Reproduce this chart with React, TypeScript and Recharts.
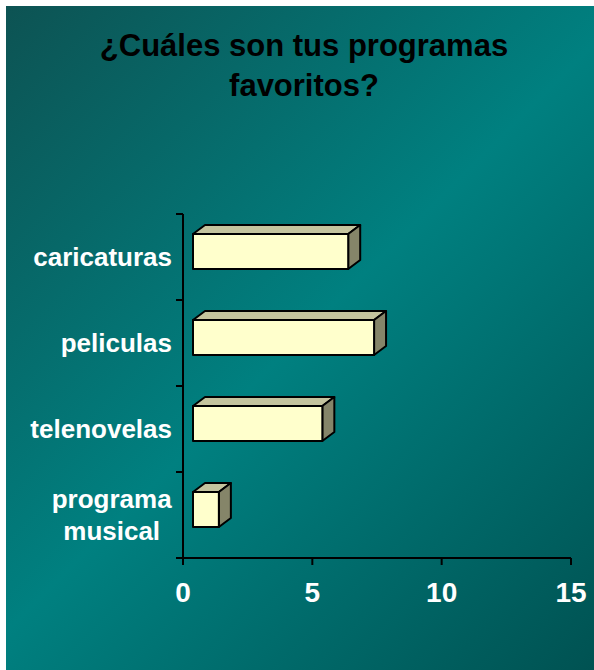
import { BarChart, Bar, XAxis, YAxis } from "recharts";

const categories = ["caricaturas", "peliculas", "telenovelas", "programa musical"];
const votes = [6, 7, 5, 1];
const xTicks = [0, 5, 10, 15];

const data = categories.map((name, i) => ({ name, value: votes[i] }));

const WIDTH = 594;
const HEIGHT = 670;
const PLOT_TOP = 214;
const PLOT_BOTTOM = 558;
const X_AXIS_H = 30;
const BAND = (PLOT_BOTTOM - PLOT_TOP) / categories.length;

const FONT = '"Liberation Sans", Arial, Helvetica, sans-serif';
const LABEL_SIZE = 26;

// 3D-ish box like the old Excel charts: front face shifted right/up, top + side faces behind
function Box3D(props: any) {
  const { x, y, width, height } = props;
  if (width == null || width <= 0) return null;
  const dx = 12;
  const dy = 9;
  const fx = x + 10;
  const fy = y - 6;
  const top = `${fx},${fy} ${fx + dx},${fy - dy} ${fx + width + dx},${fy - dy} ${fx + width},${fy}`;
  const side = `${fx + width},${fy} ${fx + width + dx},${fy - dy} ${fx + width + dx},${fy + height - dy} ${fx + width},${fy + height}`;
  return (
    <g stroke="#000" strokeWidth={2} strokeLinejoin="round">
      <polygon points={top} fill="#c4c49e" />
      <polygon points={side} fill="#858569" />
      <rect x={fx} y={fy} width={width} height={height} fill="#ffffcc" />
    </g>
  );
}

function CategoryTick(props: any) {
  const { x, y, payload, index } = props;
  const words = String(payload.value).split(" ");
  const axisX = x + 11;
  const marks = (
    <>
      <line x1={axisX - 7} x2={axisX} y1={y - BAND / 2} y2={y - BAND / 2} stroke="#000" strokeWidth={2} />
      {index === categories.length - 1 && (
        <line x1={axisX - 7} x2={axisX} y1={y + BAND / 2} y2={y + BAND / 2} stroke="#000" strokeWidth={2} />
      )}
    </>
  );
  if (words.length === 1) {
    return (
      <g>
        {marks}
        <text x={x} y={y} dy="0.355em" textAnchor="end" fill="#fff" fontSize={LABEL_SIZE} fontWeight="bold" fontFamily={FONT}>
          {words[0]}
        </text>
      </g>
    );
  }
  const longest = Math.max(...words.map((w) => w.length));
  const cx = x - (longest * 0.58 * LABEL_SIZE) / 2;
  return (
    <g>
      {marks}
      {words.map((w, i) => (
        <text
          key={w}
          x={cx}
          y={y + (i - (words.length - 1) / 2) * 32}
          dy="0.355em"
          textAnchor="middle"
          fill="#fff"
          fontSize={LABEL_SIZE}
          fontWeight="bold"
          fontFamily={FONT}
        >
          {w}
        </text>
      ))}
    </g>
  );
}

export default function App() {
  return (
    <div style={{ position: "fixed", left: 0, top: 0, width: WIDTH, height: HEIGHT, background: "#fff" }}>
      <div
        style={{
          position: "absolute",
          left: 6,
          top: 6,
          right: 0,
          bottom: 0,
          background: "linear-gradient(135deg, #0d5353 0%, #008080 50%, #005252 100%)",
        }}
      />
      <div
        style={{
          position: "absolute",
          left: 0,
          top: 26,
          width: 608,
          textAlign: "center",
          fontFamily: FONT,
          fontWeight: "bold",
          fontSize: 31,
          lineHeight: "40px",
          color: "#000",
        }}
      >
        ¿Cuáles son tus programas
        <br />
        favoritos?
      </div>
      <div style={{ position: "absolute", left: 0, top: 0 }}>
        <BarChart
          width={WIDTH}
          height={HEIGHT}
          data={data}
          layout="vertical"
          margin={{ top: PLOT_TOP, bottom: HEIGHT - PLOT_BOTTOM - X_AXIS_H, left: 0, right: 23 }}
        >
          <XAxis
            type="number"
            domain={[0, 15]}
            ticks={xTicks}
            interval={0}
            height={X_AXIS_H}
            axisLine={{ stroke: "#000", strokeWidth: 2 }}
            tickLine={{ stroke: "#000", strokeWidth: 2 }}
            tickSize={7}
            tickMargin={17}
            tick={{ fill: "#fff", fontSize: 28, fontWeight: "bold", fontFamily: FONT }}
          />
          <YAxis
            type="category"
            dataKey="name"
            width={183}
            interval={0}
            axisLine={{ stroke: "#000", strokeWidth: 2 }}
            tickLine={false}
            tickSize={0}
            tickMargin={11}
            tick={<CategoryTick />}
          />
          <Bar dataKey="value" barSize={35} fill="#ffffcc" shape={<Box3D />} isAnimationActive={false} />
        </BarChart>
      </div>
    </div>
  );
}
